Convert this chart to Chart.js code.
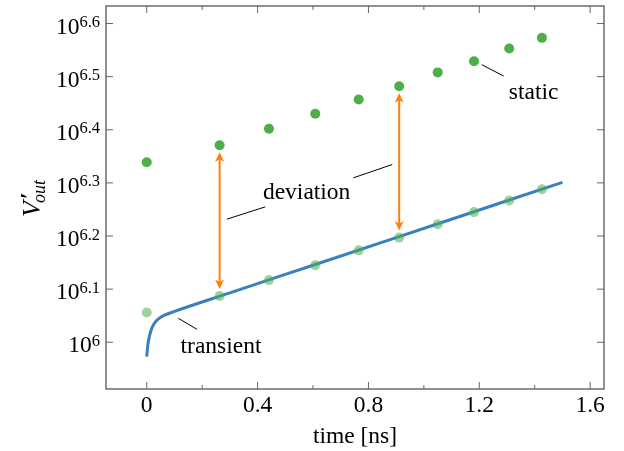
<!DOCTYPE html>
<html>
<head>
<meta charset="utf-8">
<script src="https://cdn.jsdelivr.net/npm/chart.js@4.4.1/dist/chart.umd.min.js"></script>
<style>
  html, body { margin: 0; padding: 0; background: #fff; }
  canvas { display: block; }
</style>
</head>
<body>
<canvas id="chart" width="624" height="451"></canvas>
<script>
// time in ns, values as log10(V'out)
const staticTime = [0, 0.263, 0.441, 0.608, 0.765, 0.911, 1.05, 1.181, 1.308, 1.426];
const staticExp = [6.339, 6.371, 6.402, 6.43, 6.457, 6.482, 6.508, 6.529, 6.553, 6.573];

const sampleTime = [0, 0.263, 0.441, 0.608, 0.765, 0.911, 1.05, 1.181, 1.308, 1.426];
const sampleExp = [6.056, 6.087, 6.117, 6.145, 6.173, 6.197, 6.222, 6.245, 6.267, 6.288];

const curveTime = [0, 0.004, 0.01, 0.018, 0.028, 0.04, 0.06, 0.1, 0.3, 0.6, 0.9, 1.2, 1.5];
const curveExp = [5.973, 5.995, 6.012, 6.026, 6.036, 6.043, 6.05, 6.058, 6.093, 6.145, 6.197, 6.249, 6.301];

const xTicks = [0, 0.4, 0.8, 1.2, 1.6];
const xTickLabels = ["0", "0.4", "0.8", "1.2", "1.6"];
const xMinorTicks = [0.2, 0.6, 1.0, 1.4];
const yTicksExp = [6, 6.1, 6.2, 6.3, 6.4, 6.5, 6.6];
const yTickSup = ["6", "6.1", "6.2", "6.3", "6.4", "6.5", "6.6"];

// deviation arrows at these sample indexes
const arrowIdx = [1, 5];

const SERIF = '"Liberation Serif", "DejaVu Serif", serif';

function toPoints(xs, es) {
  return xs.map((t, i) => ({ x: t, y: Math.pow(10, es[i]) }));
}

function arrowHead(ctx, x, y, dir) {
  // dir = -1 pointing up, 1 pointing down
  ctx.beginPath();
  ctx.moveTo(x, y);
  ctx.lineTo(x - 4.5, y - dir * 9.5);
  ctx.lineTo(x, y - dir * 7);
  ctx.lineTo(x + 4.5, y - dir * 9.5);
  ctx.closePath();
  ctx.fill();
}

const decorations = {
  id: "decorations",
  afterDatasetsDraw(chart) {
    const ctx = chart.ctx;
    const a = chart.chartArea;
    const xs = chart.scales.x;
    const ys = chart.scales.y;
    const px = (t) => xs.getPixelForValue(t);
    const py = (e) => ys.getPixelForValue(Math.pow(10, e));

    ctx.save();

    // orange double arrows
    ctx.strokeStyle = "#ff7f0e";
    ctx.fillStyle = "#ff7f0e";
    ctx.lineWidth = 2;
    arrowIdx.forEach((i) => {
      const x = px(staticTime[i]);
      const yTop = py(staticExp[i]) + 7;
      const yBot = py(sampleExp[i]) - 7;
      ctx.beginPath();
      ctx.moveTo(x, yTop + 6);
      ctx.lineTo(x, yBot - 6);
      ctx.stroke();
      arrowHead(ctx, x, yTop, -1);
      arrowHead(ctx, x, yBot, 1);
    });

    // annotation leader lines
    ctx.strokeStyle = "#000";
    ctx.lineWidth = 1;
    const leaders = [
      [0.289, 6.2317, 0.428, 6.2549],
      [0.745, 6.3094, 0.886, 6.3346],
      [1.209, 6.5225, 1.288, 6.5011],
      [0.114, 6.0451, 0.181, 6.0244]
    ];
    leaders.forEach((l) => {
      ctx.beginPath();
      ctx.moveTo(px(l[0]), py(l[1]));
      ctx.lineTo(px(l[2]), py(l[3]));
      ctx.stroke();
    });

    ctx.fillStyle = "#000";
    ctx.font = "23.5px " + SERIF;
    ctx.textAlign = "center";
    ctx.textBaseline = "middle";
    ctx.fillText("deviation", px(0.577), py(6.2812));
    ctx.fillText("static", px(1.396), py(6.4692));
    ctx.fillText("transient", px(0.268), py(5.9906));

    // frame
    ctx.strokeStyle = "#555";
    ctx.lineWidth = 1.3;
    ctx.strokeRect(a.left, a.top, a.right - a.left, a.bottom - a.top);

    // ticks, drawn inward on all four sides
    ctx.lineWidth = 1;
    ctx.strokeStyle = "#666";
    ctx.beginPath();
    xTicks.forEach((t) => {
      const x = px(t);
      ctx.moveTo(x, a.bottom); ctx.lineTo(x, a.bottom - 7);
      ctx.moveTo(x, a.top); ctx.lineTo(x, a.top + 7);
    });
    xMinorTicks.forEach((t) => {
      const x = px(t);
      ctx.moveTo(x, a.bottom); ctx.lineTo(x, a.bottom - 4);
      ctx.moveTo(x, a.top); ctx.lineTo(x, a.top + 4);
    });
    yTicksExp.forEach((e) => {
      const y = py(e);
      ctx.moveTo(a.left, y); ctx.lineTo(a.left + 7, y);
      ctx.moveTo(a.right, y); ctx.lineTo(a.right - 7, y);
    });
    ctx.stroke();

    // x tick labels and title
    ctx.fillStyle = "#000";
    ctx.font = "23.5px " + SERIF;
    ctx.textAlign = "center";
    ctx.textBaseline = "alphabetic";
    xTicks.forEach((t, i) => {
      ctx.fillText(xTickLabels[i], px(t), a.bottom + 23);
    });
    ctx.fillText("time [ns]", (a.left + a.right) / 2, a.bottom + 54);

    // y tick labels 10^e
    ctx.textAlign = "right";
    yTicksExp.forEach((e, i) => {
      const y = py(e);
      const xr = a.left - 6;
      ctx.font = "16.5px " + SERIF;
      const w = ctx.measureText(yTickSup[i]).width;
      ctx.fillText(yTickSup[i], xr, y + 3.5);
      ctx.font = "23.5px " + SERIF;
      ctx.fillText("10", xr - w, y + 10);
    });

    // y title V'_out
    ctx.translate(40, (a.top + a.bottom) / 2);
    ctx.rotate(-Math.PI / 2);
    ctx.textAlign = "left";
    ctx.font = "italic 26px " + SERIF;
    const vw = ctx.measureText("V").width;
    ctx.font = "italic 18px " + SERIF;
    const ow = ctx.measureText("out").width;
    const start = -(vw + ow) / 2;
    ctx.font = "italic 26px " + SERIF;
    ctx.fillText("V", start, 0);
    ctx.font = "bold 24px " + SERIF;
    ctx.fillText("\u2032", start + vw + 2, -4);
    ctx.font = "italic 18px " + SERIF;
    ctx.fillText("out", start + vw - 2, 5);

    ctx.restore();
  }
};

new Chart(document.getElementById("chart"), {
  type: "scatter",
  data: {
    datasets: [
      {
        label: "static",
        data: toPoints(staticTime, staticExp),
        backgroundColor: "#4daf4a",
        borderWidth: 0,
        pointRadius: 5,
        order: 1
      },
      {
        label: "transient samples",
        data: toPoints(sampleTime, sampleExp),
        backgroundColor: "rgba(77, 175, 74, 0.55)",
        borderWidth: 0,
        pointRadius: 5,
        order: 2
      },
      {
        type: "line",
        label: "transient",
        data: toPoints(curveTime, curveExp),
        borderColor: "#3a7fc0",
        borderWidth: 3,
        pointRadius: 0,
        showLine: true,
        fill: false,
        cubicInterpolationMode: "monotone",
        order: 3
      }
    ]
  },
  options: {
    responsive: false,
    animation: false,
    devicePixelRatio: 1,
    layout: { padding: { left: 106, right: 20, top: 6, bottom: 62 } },
    scales: {
      x: { type: "linear", min: -0.147, max: 1.65, display: false },
      y: {
        type: "logarithmic",
        min: Math.pow(10, 5.912),
        max: Math.pow(10, 6.633),
        display: false
      }
    },
    plugins: {
      legend: { display: false },
      tooltip: { enabled: false }
    }
  },
  plugins: [decorations]
});
</script>
</body>
</html>
